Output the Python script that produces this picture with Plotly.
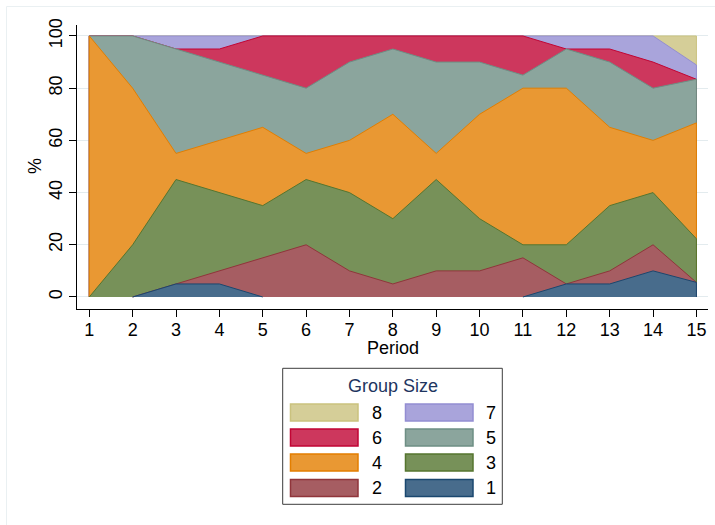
import numpy as np
import plotly.graph_objects as go

# Share of groups (%) by group size in each period
periods = list(range(1, 16))
size_1 = [0, 0, 5, 5, 0, 0, 0, 0, 0, 0, 0, 5, 5, 10, 5.6]
size_2 = [0, 0, 0, 5, 15, 20, 10, 5, 10, 10, 15, 0, 5, 10, 0]
size_3 = [0, 20, 40, 30, 20, 25, 30, 25, 35, 20, 5, 15, 25, 20, 16.7]
size_4 = [100, 60, 10, 20, 30, 10, 20, 40, 10, 40, 60, 60, 30, 20, 44.4]
size_5 = [0, 20, 40, 30, 20, 25, 30, 25, 35, 20, 5, 15, 25, 20, 16.7]
size_6 = [0, 0, 0, 5, 15, 20, 10, 5, 10, 10, 15, 0, 5, 10, 0]
size_7 = [0, 0, 5, 5, 0, 0, 0, 0, 0, 0, 0, 5, 5, 10, 5.5]
size_8 = [0, 0, 0, 0, 0, 0, 0, 0, 0, 0, 0, 0, 0, 0, 11.1]
group_labels = ["1", "2", "3", "4", "5", "6", "7", "8"]
y_ticks = [0, 20, 40, 60, 80, 100]

series = [size_1, size_2, size_3, size_4, size_5, size_6, size_7, size_8]
line_colors = ["#1a476f", "#90353b", "#55752f", "#e37e00",
               "#6e8e84", "#c10534", "#938dd2", "#cac27e"]
fill_colors = ["#486c8c", "#a65d62", "#779159", "#e99833",
               "#8ba59d", "#cd375d", "#a9a4db", "#d5ce98"]

W, H = 715, 525
L, R, T, B = 77, 708, 25, 309  # plot area in pixels
FONT = "Liberation Sans, Arial, Helvetica, sans-serif"


def px(x):
    return (x - L) / (R - L)


def py(y):
    return (B - y) / (B - T)


def outline(xs, ys):
    """Outline path that leaves out stretches lying on the zero baseline."""
    ox, oy = [xs[0]], [ys[0]]
    for i in range(1, len(xs)):
        if ys[i - 1] == 0 and ys[i] == 0 and xs[i - 1] != xs[i]:
            ox.append(None)
            oy.append(None)
        ox.append(xs[i])
        oy.append(ys[i])
    return ox, oy


cum = np.cumsum(np.array(series, dtype=float), axis=0)

fig = go.Figure()
# Largest cumulative share first so each smaller one overlays it
for k in reversed(range(len(series))):
    xs = [periods[0]] + periods + [periods[-1]]
    ys = [0.0] + [float(v) for v in cum[k]] + [0.0]
    fig.add_trace(go.Scatter(
        x=xs, y=ys, mode="lines", fill="tozeroy",
        fillcolor=fill_colors[k], line=dict(width=0),
        showlegend=False, hoverinfo="skip", name=group_labels[k],
    ))
    lx, ly = outline(xs, ys)
    fig.add_trace(go.Scatter(
        x=lx, y=ly, mode="lines", connectgaps=False,
        line=dict(color=line_colors[k], width=1),
        showlegend=False, hoverinfo="skip", name=group_labels[k],
    ))

fig.update_layout(
    width=W, height=H,
    margin=dict(l=L, r=W - R, t=T, b=H - B, pad=0),
    paper_bgcolor="white", plot_bgcolor="white",
    font=dict(family=FONT, size=18, color="black"),
    showlegend=False,
    xaxis=dict(
        range=[0.717, 15.267], tickvals=periods,
        ticks="outside", ticklen=7, tickcolor="black", tickwidth=1,
        showline=True, linecolor="black", linewidth=1,
        showgrid=False, zeroline=False, ticklabelstandoff=-3,
        tickfont=dict(size=18, color="black"),
    ),
    yaxis=dict(
        range=[-4.6, 104.2], tickvals=y_ticks, tickangle=-90,
        ticks="outside", ticklen=7, tickcolor="black", tickwidth=1,
        showline=True, linecolor="black", linewidth=1,
        showgrid=True, gridcolor="#e3ebee", gridwidth=1,
        zeroline=False,
        tickfont=dict(size=18, color="black"),
    ),
)

shapes = []
annotations = []

# faint outer frame of the graph region
shapes.append(dict(type="line", xref="paper", yref="paper",
                   x0=px(6.5), x1=px(6.5), y0=py(6.5), y1=py(525),
                   line=dict(color="#eaf0f2", width=1)))
shapes.append(dict(type="line", xref="paper", yref="paper",
                   x0=px(6.5), x1=px(715), y0=py(6.5), y1=py(6.5),
                   line=dict(color="#eaf0f2", width=1)))

# axis titles
annotations.append(dict(text="Period", xref="paper", yref="paper",
                        x=px(392.5), y=py(347.5), xanchor="center", yanchor="middle",
                        showarrow=False, font=dict(size=18, color="black")))
annotations.append(dict(text="%", xref="paper", yref="paper",
                        x=px(35), y=py(166), xanchor="center", yanchor="middle",
                        textangle=-90, showarrow=False,
                        font=dict(size=18, color="black")))

# legend box
shapes.append(dict(type="rect", xref="paper", yref="paper",
                   x0=px(282.7), x1=px(502.3), y0=py(368.3), y1=py(504.3),
                   line=dict(color="#3c3c3c", width=1), fillcolor="white"))
annotations.append(dict(text="Group Size", xref="paper", yref="paper",
                        x=px(392.5), y=py(385.5), xanchor="center", yanchor="middle",
                        showarrow=False, font=dict(size=18, color="#1e3560")))

legend_order = [7, 6, 5, 4, 3, 2, 1, 0]  # sizes 8,7 / 6,5 / 4,3 / 2,1
row_centers = [412.5, 437.5, 462.5, 488]
col_swatch = [(290.5, 358), (405.5, 473)]
col_label = [370, 484]
for i, k in enumerate(legend_order):
    r, c = divmod(i, 2)
    yc = row_centers[r]
    x0, x1 = col_swatch[c]
    shapes.append(dict(type="rect", xref="paper", yref="paper",
                       x0=px(x0), x1=px(x1), y0=py(yc - 8.5), y1=py(yc + 8.5),
                       line=dict(color=line_colors[k], width=1.5),
                       fillcolor=fill_colors[k]))
    annotations.append(dict(text=group_labels[k], xref="paper", yref="paper",
                            x=px(col_label[c]), y=py(yc), xanchor="left",
                            yanchor="middle", showarrow=False,
                            font=dict(size=18, color="black")))

fig.update_layout(shapes=shapes, annotations=annotations)
fig.write_html("out.html")
